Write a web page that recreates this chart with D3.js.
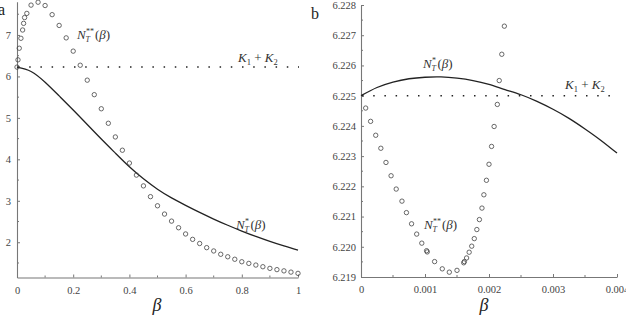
<!DOCTYPE html>
<html><head><meta charset="utf-8">
<script src="https://cdn.jsdelivr.net/npm/d3@7/dist/d3.min.js"></script>
<style>
body{margin:0;background:#fff;}
svg{display:block;}
text{font-family:"Liberation Serif",Tinos,"Times New Roman",Times,serif;}
</style></head>
<body>
<svg id="c" width="626" height="318"></svg>
<script>
const FONT = '"Liberation Serif",Tinos,"Times New Roman",Times,serif';
// ---- Panel a data ----
const aLineBeta = [0,0.05,0.1,0.15,0.2,0.25,0.3,0.35,0.4,0.45,0.5,0.55,0.6,0.65,0.7,0.75,0.8,0.85,0.9,0.95,1.0];
const aLineVals = [6.225,6.12,5.86,5.53,5.19,4.84,4.49,4.15,3.82,3.53,3.28,3.07,2.89,2.72,2.56,2.41,2.27,2.14,2.02,1.91,1.81];
const aCircBeta = [0,0.0035,0.008,0.014,0.02,0.0235,0.027,0.035,0.05,0.075,0.1,0.125,0.15,0.175,0.2,0.225,0.25,0.275,0.3,0.325,0.35,0.375,0.4,0.425,0.45,0.475,0.5,0.525,0.55,0.575,0.6,0.625,0.65,0.675,0.7,0.725,0.75,0.775,0.8,0.825,0.85,0.875,0.9,0.925,0.95,0.975,1.0];
const aCircVals = [6.225,6.40,6.68,6.92,7.12,7.28,7.42,7.52,7.72,7.79,7.71,7.49,7.23,6.93,6.61,6.27,5.91,5.56,5.22,4.87,4.54,4.22,3.91,3.62,3.36,3.10,2.88,2.68,2.51,2.35,2.20,2.07,1.97,1.87,1.79,1.71,1.65,1.59,1.53,1.49,1.45,1.41,1.37,1.34,1.31,1.28,1.25];
const aXTicks = [0,0.2,0.4,0.6,0.8,1];
const aXMinor = [0.1,0.3,0.5,0.7,0.9];
const aYTicks = [2,3,4,5,6,7];
const aYMinor = [1.5,2.5,3.5,4.5,5.5,6.5,7.5];
const K = 6.225;

// ---- Panel b data ----
const bLineBeta = [0,0.00025,0.0005,0.00075,0.001,0.00125,0.0015,0.00175,0.002,0.00225,0.0025,0.00275,0.003,0.00325,0.0035,0.00375,0.004];
const bLineVals = [6.22500,6.22527,6.22545,6.22556,6.22561,6.22562,6.22558,6.22550,6.22537,6.22520,6.22503,6.22481,6.22455,6.22425,6.22390,6.22352,6.22310];
const bCircBeta = [0.000073,0.00015,0.00023,0.00031,0.00039,0.00047,0.00055,0.00064,0.00071,0.00079,0.00087,0.00095,0.001025,0.001035,0.00115,0.00127,0.00138,0.0015,0.001605,0.001615,0.00165,0.00169,0.00173,0.00177,0.00181,0.00185,0.00189,0.00192,0.00196,0.002,0.00204,0.00208,0.00213,0.00216,0.0022,0.00224];
const bCircVals = [6.22459,6.22415,6.22369,6.22326,6.22279,6.22235,6.22191,6.22151,6.22113,6.22076,6.22042,6.22012,6.21987,6.21983,6.21951,6.21927,6.21916,6.21922,6.21947,6.21951,6.21963,6.21982,6.22002,6.22027,6.22057,6.22090,6.22128,6.22172,6.22220,6.22273,6.22332,6.22398,6.22471,6.22550,6.22637,6.22730];
const bXTicks = [0,0.001,0.002,0.003,0.004];
const bXMinor = [0.0005,0.0015,0.0025,0.0035];
const bYTicks = [6.219,6.220,6.221,6.222,6.223,6.224,6.225,6.226,6.227,6.228];
const bYMinor = [6.2195,6.2205,6.2215,6.2225,6.2235,6.2245,6.2255,6.2265,6.2275];

const svg = d3.select("#c");
const axisCol = "#777", txtCol = "#444", ink = "#222";

function panel(o){
  const g = svg.append("g");
  const x = d3.scaleLinear().domain(o.xd).range(o.xr);
  const y = d3.scaleLinear().domain(o.yd).range(o.yr);
  const xa = g.append("g").attr("transform",`translate(0,${o.yr[0]})`)
    .call(d3.axisBottom(x).tickValues(o.xt).tickFormat(o.xf).tickSizeInner(-3).tickSizeOuter(0).tickPadding(9));
  xa.append("g").selectAll("line").data(o.xm).join("line")
    .attr("x1",d=>x(d)).attr("x2",d=>x(d)).attr("y1",0).attr("y2",-2).attr("stroke",axisCol);
  const ya = g.append("g").attr("transform",`translate(${o.xr[0]},0)`)
    .call(d3.axisLeft(y).tickValues(o.yt).tickFormat(o.yf).tickSizeInner(-3).tickSizeOuter(0).tickPadding(o.ypad));
  ya.append("g").selectAll("line").data(o.ym).join("line")
    .attr("y1",d=>y(d)).attr("y2",d=>y(d)).attr("x1",0).attr("x2",2).attr("stroke",axisCol);
  [xa,ya].forEach(a=>{
    a.attr("font-family",FONT);
    a.select(".domain").attr("stroke",axisCol).attr("stroke-width",1.1);
    a.selectAll(".tick line").attr("stroke",axisCol);
    a.selectAll("text").attr("fill",txtCol).style("font-size","10.5px").style("font-family",FONT);
  });
  g.append("line").attr("x1",x(o.xd[0])+1).attr("x2",x(o.xd[1])+1).attr("y1",y(K)).attr("y2",y(K))
    .attr("stroke",ink).attr("stroke-width",1.5).attr("stroke-dasharray","1.5 9.7");
  const line = d3.line().x(d=>x(d[0])).y(d=>y(d[1])).curve(d3.curveNatural);
  g.append("path").datum(d3.zip(o.lb,o.lv)).attr("d",line)
    .attr("fill","none").attr("stroke",ink).attr("stroke-width",1.3);
  g.append("g").selectAll("circle").data(d3.zip(o.cb,o.cv)).join("circle")
    .attr("cx",d=>x(d[0])).attr("cy",d=>y(d[1])).attr("r",2.2)
    .attr("fill","none").attr("stroke","#444").attr("stroke-width",0.8);
  return {x,y,g};
}

const fmtA = d=> d===0?"0":(d===1?"1":d3.format(".1f")(d));
const fmtB = d=> d===0?"0":d3.format(".3f")(d);

panel({xd:[0,1],xr:[17,298],yd:[1.15,7.8],yr:[277.5,1.8],xt:aXTicks,xm:aXMinor,yt:aYTicks,ym:aYMinor,
  xf:fmtA,yf:d3.format("d"),ypad:6,lb:aLineBeta,lv:aLineVals,cb:aCircBeta,cv:aCircVals});
panel({xd:[0,0.004],xr:[361,617],yd:[6.219,6.228],yr:[277,5],xt:bXTicks,xm:bXMinor,yt:bYTicks,ym:bYMinor,
  xf:fmtB,yf:d3.format(".3f"),ypad:5,lb:bLineBeta,lv:bLineVals,cb:bCircBeta,cv:bCircVals});

function label(x,y,txt,size,italic){
  return svg.append("text").attr("x",x).attr("y",y).attr("fill",ink).style("font-size",size+"px")
    .style("font-family",FONT).style("font-style",italic?"italic":"normal").text(txt);
}
label(-2,15,"a",16,false);
label(311,19,"b",16,false);
label(157,311,"β",18,true).attr("text-anchor","middle");
label(484,311,"β",18,true).attr("text-anchor","middle");

function nLabel(x,y,sup){
  const t = svg.append("text").attr("x",x).attr("y",y).attr("fill","#333").style("font-size","13px").style("font-family",FONT);
  t.append("tspan").style("font-style","italic").text("N");
  t.append("tspan").attr("x",x+9).attr("dy",-5).style("font-size","8px").text(sup);
  t.append("tspan").attr("x",x+8.5).attr("dy",8).style("font-size","8px").style("font-style","italic").text("T");
  const end = x + 8.5 + (sup.length>1?9.5:6);
  t.append("tspan").attr("x",end).attr("dy",-3).text("(");
  t.append("tspan").style("font-style","italic").text("β");
  t.append("tspan").text(")");
}
function kLabel(x,y){
  const t = svg.append("text").attr("x",x).attr("y",y).attr("fill","#333").style("font-size","13px").style("font-family",FONT);
  t.append("tspan").style("font-style","italic").text("K");
  t.append("tspan").attr("dy",3).style("font-size","8.5px").text("1");
  t.append("tspan").attr("dy",-3).text(" + ");
  t.append("tspan").style("font-style","italic").text("K");
  t.append("tspan").attr("dy",3).style("font-size","8.5px").text("2");
}
nLabel(77,39,"**");
nLabel(236,229,"*");
nLabel(423,68,"*");
nLabel(424,229,"**");
kLabel(238,62);
kLabel(565,89);
</script>
</body></html>
